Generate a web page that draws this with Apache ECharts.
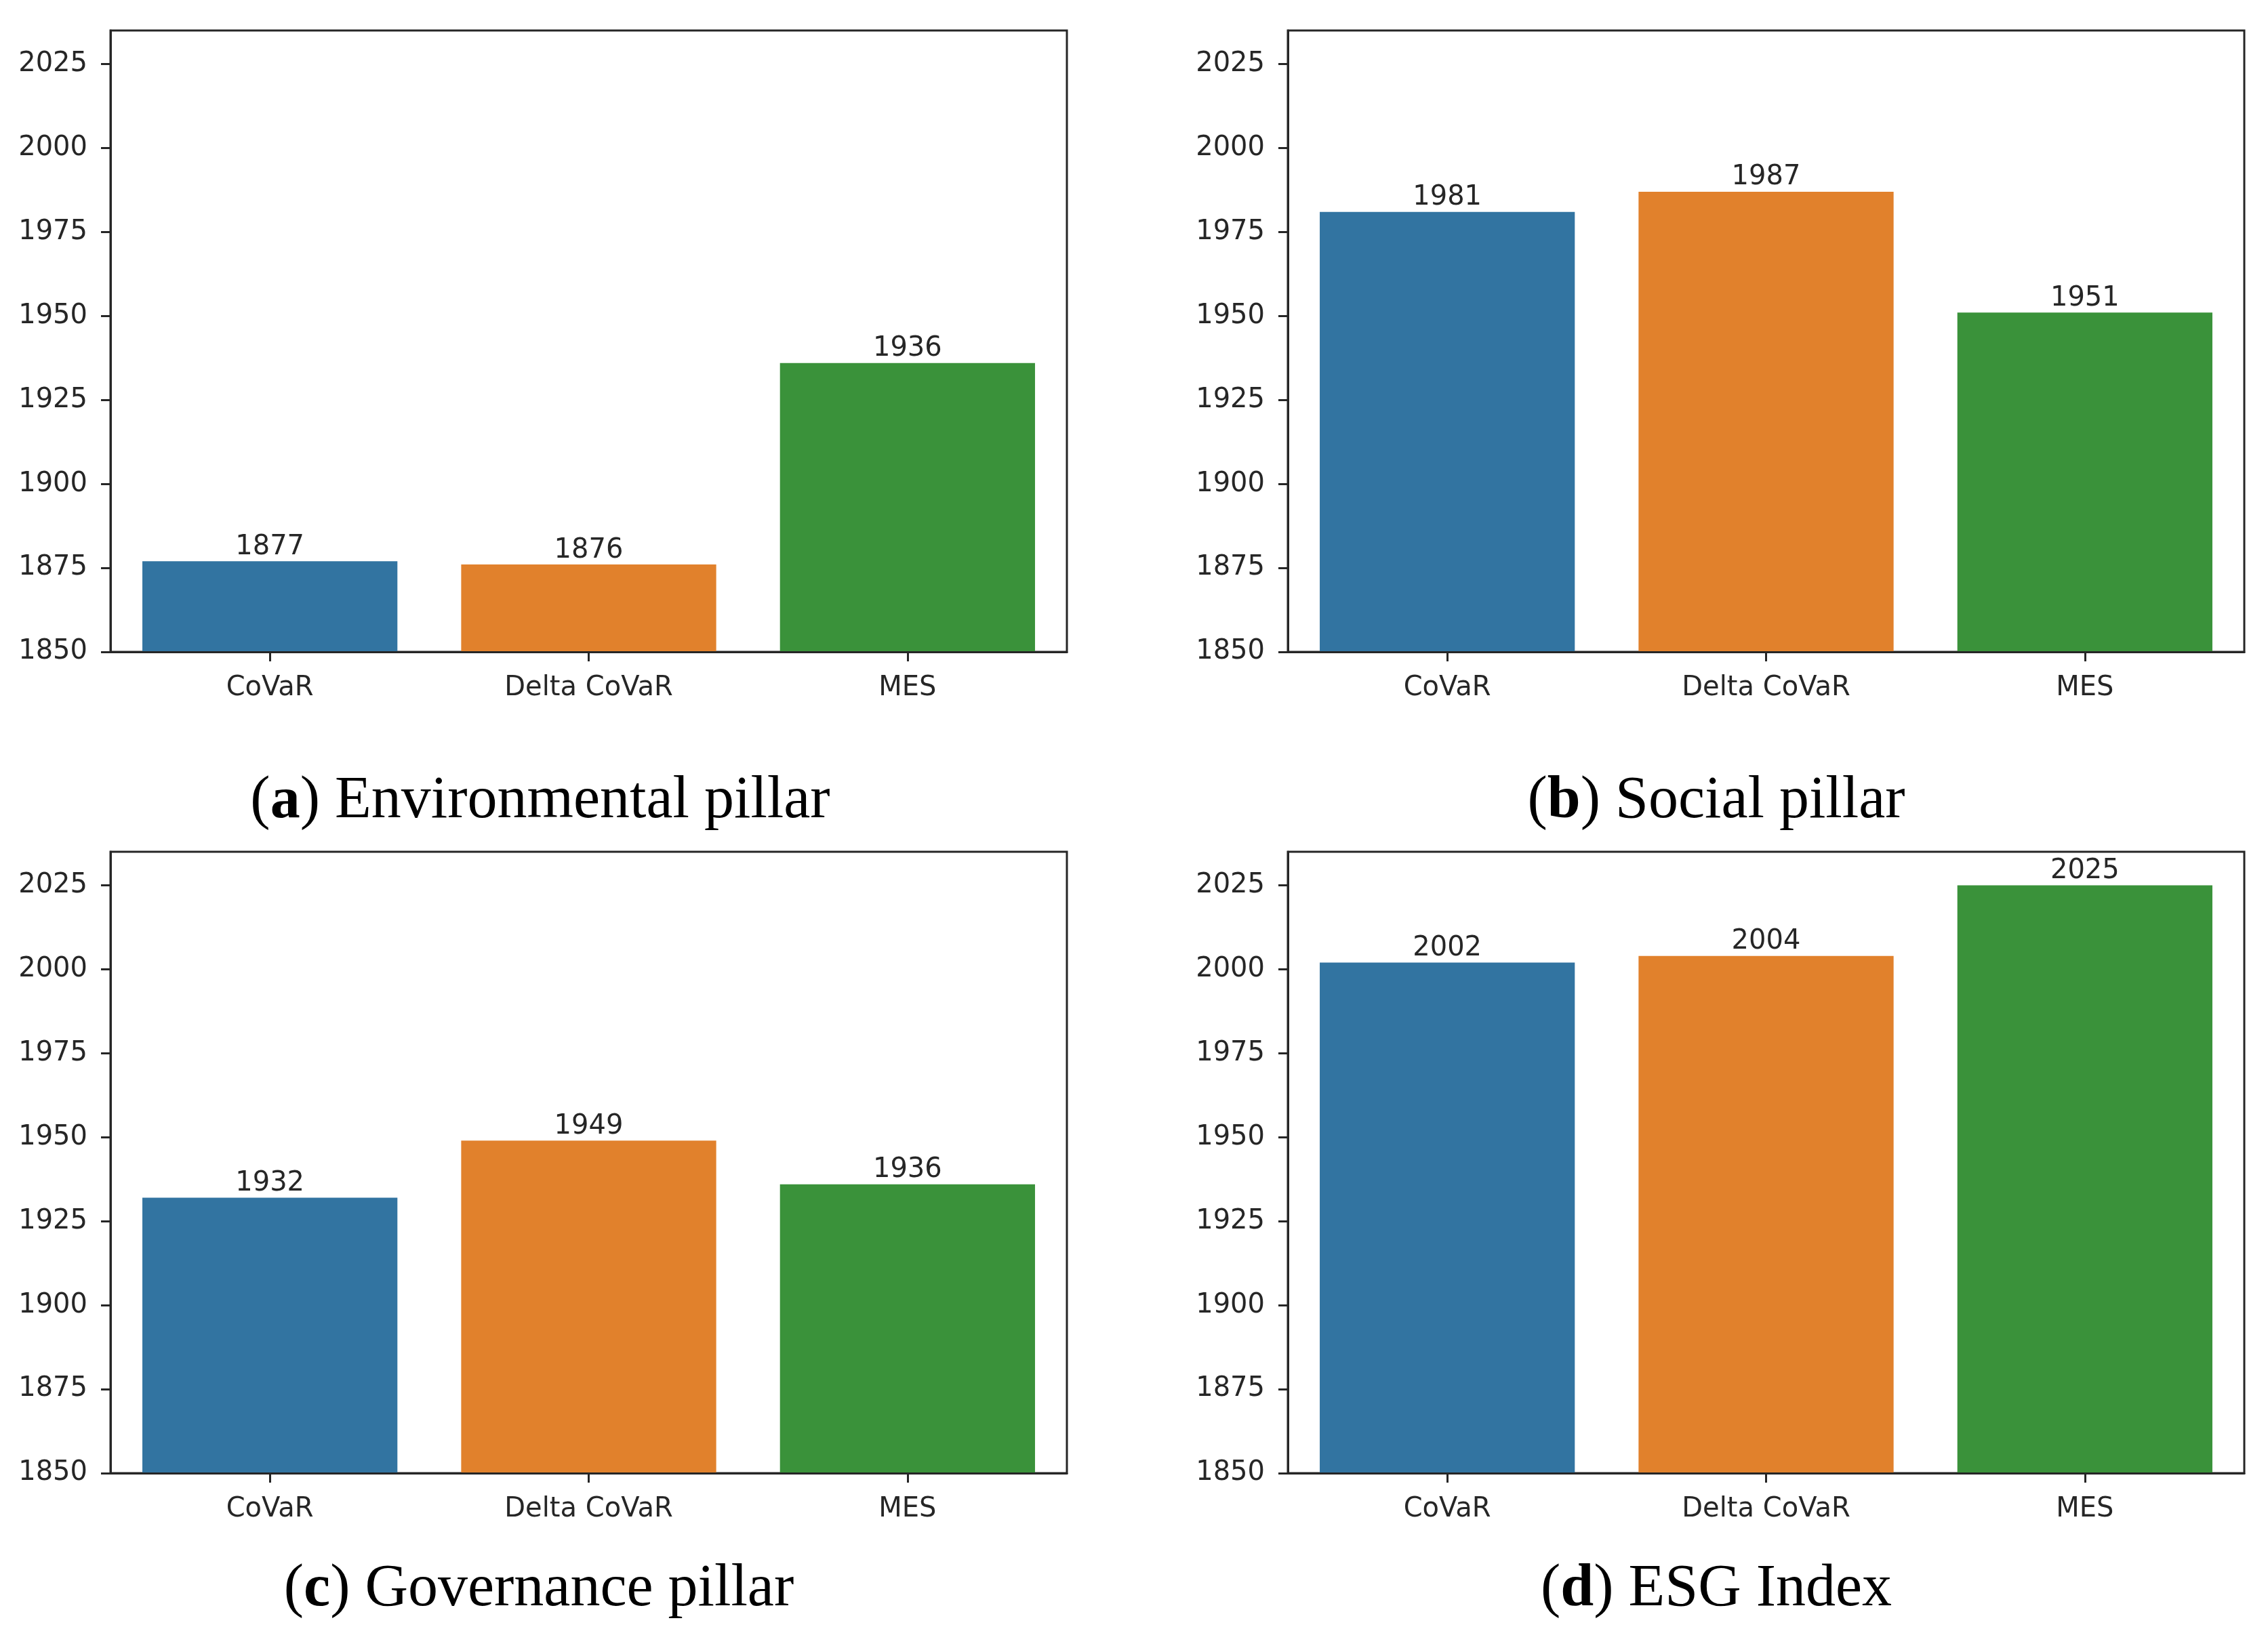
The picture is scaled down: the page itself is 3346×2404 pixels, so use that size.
<!DOCTYPE html>
<html>
<head>
<meta charset="utf-8">
<script src="https://cdn.jsdelivr.net/npm/echarts@6/dist/echarts.min.js"></script>
<style>
  html, body { margin: 0; padding: 0; background: #ffffff; }
  #chart { width: 3346px; height: 2404px; }
</style>
</head>
<body>
<div id="chart"></div>
<script>
// ---- data ----
const categories = ['CoVaR', 'Delta CoVaR', 'MES'];
const envValues = [1877, 1876, 1936];
const socValues = [1981, 1987, 1951];
const govValues = [1932, 1949, 1936];
const esgValues = [2002, 2004, 2025];
const yTicks = [1850, 1875, 1900, 1925, 1950, 1975, 2000, 2025];
const yMin = 1850;
const yMax = 2035;
const captionLetters = ['a', 'b', 'c', 'd'];
const captionTexts = [' Environmental pillar', ' Social pillar', ' Governance pillar', ' ESG Index'];

// ---- style ----
const palette = ['#3274a1', '#e1812c', '#3a923a'];
const ink = '#262626';
const tickFont = 'DejaVu Sans';
const panels = [
  { left: 163, top: 45, values: envValues, cx: 797, cy: 1183 },
  { left: 1900, top: 45, values: socValues, cx: 2532, cy: 1183 },
  { left: 163, top: 1257, values: govValues, cx: 795, cy: 2346 },
  { left: 1900, top: 1257, values: esgValues, cx: 2532, cy: 2346 }
];
const gridW = 1411, gridH = 917;

const chart = echarts.init(document.getElementById('chart'));
const grid = [], xAxis = [], yAxis = [], series = [], graphic = [];
panels.forEach((p, i) => {
  grid.push({
    left: p.left, top: p.top, width: gridW, height: gridH,
    show: true, borderColor: ink, borderWidth: 3, backgroundColor: 'transparent'
  });
  xAxis.push({
    type: 'category', gridIndex: i, data: categories, z: 5,
    axisLine: { show: true, lineStyle: { color: ink, width: 3 } },
    axisTick: { show: true, alignWithLabel: true, length: 14, lineStyle: { color: ink, width: 3 } },
    axisLabel: { color: ink, fontFamily: tickFont, fontSize: 40, margin: 34 },
    splitLine: { show: false }
  });
  yAxis.push({
    type: 'value', gridIndex: i, min: yMin, max: yMax, z: 5,
    axisLine: { show: true, lineStyle: { color: ink, width: 3 } },
    axisTick: { show: true, length: 14, customValues: yTicks, lineStyle: { color: ink, width: 3 } },
    axisLabel: {
      color: ink, fontFamily: tickFont, fontSize: 40, margin: 34, customValues: yTicks,
      formatter: (v) => String(v)
    },
    splitLine: { show: false }
  });
  series.push({
    type: 'bar', xAxisIndex: i, yAxisIndex: i, data: p.values,
    barCategoryGap: '20%',
    itemStyle: { color: (d) => palette[d.dataIndex] },
    label: {
      show: true, position: 'top', distance: 1,
      color: ink, fontFamily: tickFont, fontSize: 40
    }
  });
  graphic.push({
    type: 'text', x: p.cx, y: p.cy, z: 10,
    style: {
      text: '{n|(}{b|' + captionLetters[i] + '}{n|)' + captionTexts[i] + '}',
      align: 'center', verticalAlign: 'middle',
      textAlign: 'center', textVerticalAlign: 'middle',
      fill: '#000000',
      font: '88px "Liberation Serif"',
      rich: {
        n: { fontFamily: 'Liberation Serif', fontSize: 88, color: '#000000' },
        b: { fontFamily: 'Liberation Serif', fontSize: 88, fontWeight: 'bold', color: '#000000' }
      }
    }
  });
});

chart.setOption({
  backgroundColor: '#ffffff',
  animation: false,
  grid, xAxis, yAxis, series, graphic
});
</script>
</body>
</html>
